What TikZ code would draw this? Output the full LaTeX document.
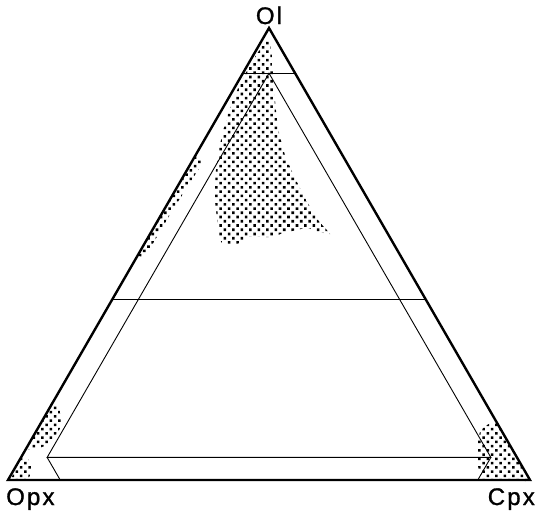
\documentclass[tikz,border=0pt]{standalone}
\usepackage{fontspec}
\newfontfamily\labfont[LetterSpace=9, FakeBold=1.2]{Liberation Sans}
\usetikzlibrary{patterns.meta}

\begin{document}
\begin{tikzpicture}[x=1pt, y=-1pt,
        rim/.style={line width=2.4pt, line join=miter, line cap=round},
        field/.style={line width=0.9pt},
        stipple/.style={pattern={Dots[distance=6pt, radius=1.8pt, angle=45]}, pattern color=black},
        corner/.style={font=\labfont\fontsize{24}{28}\selectfont, inner sep=0pt}]
  \useasboundingbox (0,0) rectangle (535,514);
  \coordinate (ol) at (269,28);
  \coordinate (opx) at (8,480);
  \coordinate (cpx) at (530,480);
  \coordinate (olL) at (barycentric cs:ol=0.9,opx=0.1);
  \coordinate (olR) at (barycentric cs:ol=0.9,cpx=0.1);
  \coordinate (midL) at (barycentric cs:ol=0.4,opx=0.6);
  \coordinate (midR) at (barycentric cs:ol=0.4,cpx=0.6);
  \coordinate (top) at (barycentric cs:ol=0.9,opx=0.05,cpx=0.05);
  \coordinate (lowL) at (barycentric cs:ol=0.05,opx=0.9,cpx=0.05);
  \coordinate (lowR) at (barycentric cs:ol=0.05,opx=0.05,cpx=0.9);
  \coordinate (baseL) at (barycentric cs:opx=0.9,cpx=0.1);
  \coordinate (baseR) at (barycentric cs:opx=0.1,cpx=0.9);
  % stippled fields
  \fill[stipple] plot[smooth cycle, tension=0.35] coordinates {(268,37) (262,46) (252,62) (243,78) (232,102) (222,135)
    (216,170) (215,200) (218,225) (222,243) (242,243) (247,237) (272,237) (283,233) (297,230) (307,228)
    (320,232) (330,234) (318,220) (305,198) (295,178) (285,155) (278,128) (275,100) (273,77) (272,55)};
  \fill[stipple] plot[smooth cycle, tension=0.3] coordinates {(195,157) (166,205) (139,254) (147,253) (174,208) (202,163)};
  \fill[stipple] plot[smooth cycle, tension=0.5] coordinates {(53,401) (60,410) (61,425) (55,437) (45,446) (30,449) (26,448) (40,424)};
  \fill[stipple] plot[smooth cycle, tension=0.5] coordinates {(21,456) (28,459) (32,466) (31,474) (26,479) (12,480) (16,466)};
  \fill[stipple] plot[smooth cycle, tension=0.3] coordinates {(497,423) (514,452) (530,480) (506,480) (483,480) (478,466)
    (477,447) (480,432) (487,425)};
  % field boundaries
  \draw[field] (olL) -- (olR);
  \draw[field] (midL) -- (midR);
  \draw[field] (top) -- (lowL) -- (lowR) -- cycle;
  \draw[field] (lowL) -- (baseL);
  \draw[field] (lowR) -- (baseR);
  \draw[rim] (ol) -- (opx) -- (cpx) -- cycle;
  % end members
  \node[corner, anchor=base] (lblOl) at (269,24) {Ol};
  \node[corner, anchor=base west] (lblOpx) at (6,505) {Opx};
  \node[corner, anchor=base east] (lblCpx) at (535,505) {Cpx};
\end{tikzpicture}
\end{document}
